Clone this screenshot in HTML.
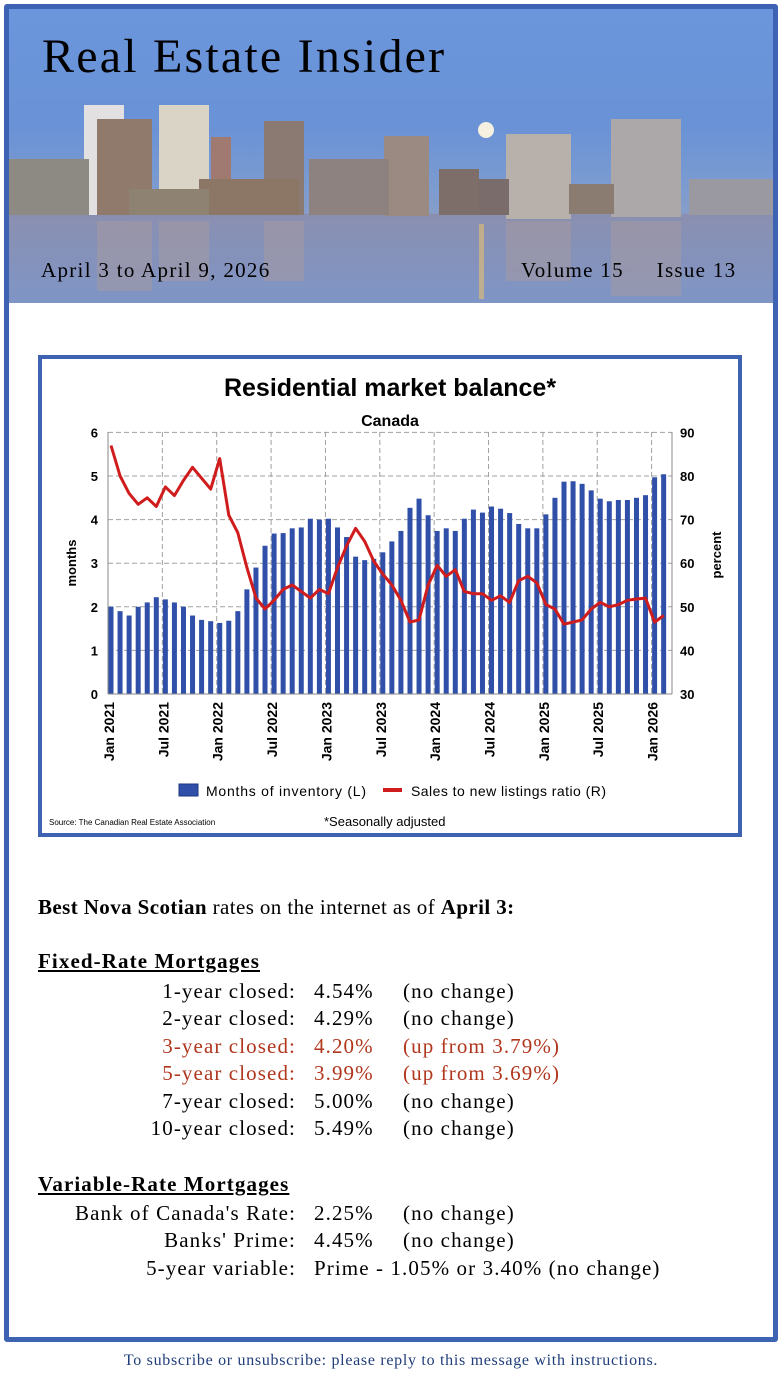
<!DOCTYPE html>
<html><head><meta charset="utf-8">
<style>
body{margin:0;width:782px;height:1382px;background:#fff;font-family:"Liberation Serif",serif;position:relative;overflow:hidden}
.frame{position:absolute;left:4px;top:4px;width:764px;height:1328px;border:5px solid #3d63b2;border-radius:3px}
.hdr{position:absolute;left:9px;top:9px;width:764px;height:294px;overflow:hidden;background:linear-gradient(#6b96dc 0%,#6a92d6 40%,#7d9cd0 62%,#8e9ec2 75%,#7f8fb4 100%)}
.t{position:absolute;white-space:nowrap;color:#000}
.rate{position:absolute;font-size:21px;letter-spacing:1.1px;white-space:nowrap}
.red{color:#b0361d}
</style></head><body>
<div class="frame"></div>
<div class="hdr">
<svg width="764" height="294" style="position:absolute;left:0;top:0">
<defs><linearGradient id="w" x1="0" y1="0" x2="0" y2="1"><stop offset="0" stop-color="#8a8fb0"/><stop offset="1" stop-color="#7f95c6"/></linearGradient></defs>
<rect x="0" y="205" width="764" height="89" fill="url(#w)"/>
<g fill="#a08f86">
<rect x="75" y="96" width="40" height="110" fill="#e2e0e0"/>
<rect x="88" y="110" width="55" height="96" fill="#8f7a6c"/>
<rect x="150" y="96" width="50" height="110" fill="#d9d4c6"/>
<rect x="202" y="128" width="20" height="78" fill="#a07a70"/>
<rect x="255" y="112" width="40" height="94" fill="#8a7a72"/>
<rect x="190" y="170" width="100" height="36" fill="#8c7666"/>
<rect x="375" y="127" width="45" height="80" fill="#9a8a82"/>
<rect x="300" y="150" width="80" height="56" fill="#8d8280"/>
<rect x="430" y="160" width="40" height="46" fill="#7e6e6a"/>
<rect x="497" y="125" width="65" height="85" fill="#b8b0aa"/>
<rect x="602" y="110" width="70" height="98" fill="#aca8aa"/>
<rect x="0" y="150" width="80" height="56" fill="#8c8a82"/>
<rect x="680" y="170" width="84" height="36" fill="#9a98a0"/>
<rect x="560" y="175" width="45" height="30" fill="#8a7c70"/>
<rect x="470" y="170" width="30" height="36" fill="#7a6c6a"/>
<rect x="120" y="180" width="80" height="26" fill="#8e8272"/>
</g>
<circle cx="477" cy="121" r="8" fill="#f6f0e0"/>
<g fill="#a89aa0" opacity="0.5">
<rect x="88" y="212" width="55" height="70"/><rect x="150" y="212" width="50" height="60"/><rect x="255" y="212" width="40" height="60"/><rect x="497" y="212" width="65" height="60"/><rect x="602" y="212" width="70" height="75"/>
</g>
<rect x="470" y="215" width="5" height="75" fill="#e8c070" opacity="0.6"/>
</svg>
<div class="t" style="left:33px;top:20px;font-size:48px;letter-spacing:2.2px">Real Estate Insider</div>
<div class="t" style="left:32px;top:249px;font-size:21px;letter-spacing:1.3px">April 3 to April 9, 2026</div>
<div class="t" style="left:512px;top:249px;font-size:21px;letter-spacing:1.3px">Volume 15&nbsp;&nbsp;&nbsp;&nbsp;&nbsp;Issue 13</div>
</div>

<svg width="704" height="482" style="position:absolute;left:38px;top:355px" font-family="'Liberation Sans',sans-serif">
<rect x="2" y="2" width="700" height="478" fill="#fff" stroke="#3d63b2" stroke-width="4"/>
<g transform="translate(-38,-355)" id="g">
<text x="390" y="396" font-size="25" font-weight="bold" text-anchor="middle">Residential market balance*</text>
<text x="390" y="426" font-size="16" font-weight="bold" text-anchor="middle">Canada</text>
</g>
</svg>

<div class="t" style="left:38px;top:895px;font-size:21px;letter-spacing:0.4px"><b>Best Nova Scotian</b> rates on the internet as of <b>April 3:</b></div>
<div class="t" style="left:38px;top:949px;font-size:21px;letter-spacing:1.1px;font-weight:bold;text-decoration:underline">Fixed-Rate Mortgages</div>
<div class="t" style="left:38px;top:1172px;font-size:21px;letter-spacing:1.1px;font-weight:bold;text-decoration:underline">Variable-Rate Mortgages</div>
<div id="rates"></div>
<div class="t" style="left:0;width:782px;text-align:center;top:1352px;font-size:16px;letter-spacing:0.7px;color:#1f3d7a">To subscribe or unsubscribe: please reply to this message with instructions.</div>

<script>
var rows=[[979,"1-year closed:","4.54%","(no change)",0],[1006,"2-year closed:","4.29%","(no change)",0],[1034,"3-year closed:","4.20%","(up from 3.79%)",1],[1061,"5-year closed:","3.99%","(up from 3.69%)",1],[1089,"7-year closed:","5.00%","(no change)",0],[1116,"10-year closed:","5.49%","(no change)",0],[1201,"Bank of Canada's Rate:","2.25%","(no change)",0],[1228,"Banks' Prime:","4.45%","(no change)",0],[1256,"5-year variable:","Prime - 1.05% or 3.40% (no change)","",0]];
var h="";rows.forEach(function(r){var c=r[4]?" red":"";h+='<div class="rate'+c+'" style="top:'+r[0]+'px;right:486px">'+r[1]+'</div><div class="rate'+c+'" style="top:'+r[0]+'px;left:314px">'+r[2]+'</div><div class="rate'+c+'" style="top:'+r[0]+'px;left:403px">'+r[3]+'</div>';});
document.getElementById("rates").innerHTML=h;
var bars=[2.0,1.9,1.8,2.0,2.1,2.22,2.17,2.1,2.0,1.8,1.7,1.67,1.63,1.68,1.9,2.4,2.9,3.4,3.68,3.69,3.8,3.82,4.02,4.0,4.02,3.82,3.6,3.15,3.07,3.1,3.25,3.5,3.74,4.27,4.48,4.1,3.74,3.8,3.74,4.02,4.23,4.16,4.3,4.25,4.15,3.9,3.8,3.8,4.12,4.5,4.87,4.88,4.82,4.67,4.48,4.42,4.45,4.45,4.5,4.56,4.97,5.04];
var line=[87,80,76,73.5,75,73,77.5,75.5,79,82,79.5,77,84,71,67,59,52,49.5,51.5,54,55,53.5,52,54,53,59,64,68,65,60.5,57.5,55,51.5,46.5,47,55,59.5,57,58.5,53.5,53,53,51.5,52.5,51,56,57,55.5,50.5,49.5,46,46.5,47,49.5,51,50,50.5,51.5,51.8,52,46.5,48];
var X=function(i){return 111+9.06*i},Y=function(v){return 694-v*43.6};
var s="";
for(var k=1;k<=6;k++)s+='<line x1="108" x2="672" y1="'+Y(k)+'" y2="'+Y(k)+'" stroke="#a0a0a0" stroke-dasharray="5,3"/>';
var labs=["Jan 2021","Jul 2021","Jan 2022","Jul 2022","Jan 2023","Jul 2023","Jan 2024","Jul 2024","Jan 2025","Jul 2025","Jan 2026"];
for(var j=0;j<11;j++){var x=X(j*6)-3;s+='<line x1="'+x+'" x2="'+x+'" y1="432" y2="694" stroke="#a0a0a0" stroke-dasharray="5,3"/>';
s+='<text transform="translate('+(x+6)+' 702) rotate(-90)" text-anchor="end" font-size="14" font-weight="bold">'+labs[j]+'</text>';}
bars.forEach(function(v,i){s+='<rect x="'+(X(i)-2.5)+'" y="'+Y(v)+'" width="5" height="'+(v*43.6)+'" fill="#2f4fa8"/>';});
s+='<line x1="108" x2="672" y1="694" y2="694" stroke="#888"/><line x1="108" x2="108" y1="432" y2="694" stroke="#888"/><line x1="672" x2="672" y1="432" y2="694" stroke="#888"/>';
for(var k=0;k<=6;k++){s+='<text x="98" y="'+(Y(k)+5)+'" font-size="13" font-weight="bold" text-anchor="end">'+k+'</text><text x="680" y="'+(Y(k)+5)+'" font-size="13" font-weight="bold">'+(30+k*10)+'</text>';}
var p="";line.forEach(function(v,i){p+=(i?"L":"M")+X(i).toFixed(1)+" "+Y((v-30)/10).toFixed(1);});
s+='<path d="'+p+'" fill="none" stroke="#d01c1c" stroke-width="3" stroke-linejoin="round"/>';
s+='<text transform="translate(76 563) rotate(-90)" text-anchor="middle" font-size="13" font-weight="bold">months</text>';
s+='<text transform="translate(721 555) rotate(-90)" text-anchor="middle" font-size="13" font-weight="bold">percent</text>';
s+='<rect x="179" y="784" width="19" height="12" fill="#2f4fa8" stroke="#1d3580"/><text x="206" y="796" font-size="14" textLength="160">Months of inventory (L)</text>';
s+='<line x1="383" x2="402" y1="790" y2="790" stroke="#d01c1c" stroke-width="4"/><text x="411" y="796" font-size="14" textLength="195">Sales to new listings ratio (R)</text>';
s+='<text x="49" y="825" font-size="8">Source: The Canadian Real Estate Association</text><text x="324" y="826" font-size="13">*Seasonally adjusted</text>';
document.getElementById("g").insertAdjacentHTML("beforeend",s);
</script>
</body></html>
